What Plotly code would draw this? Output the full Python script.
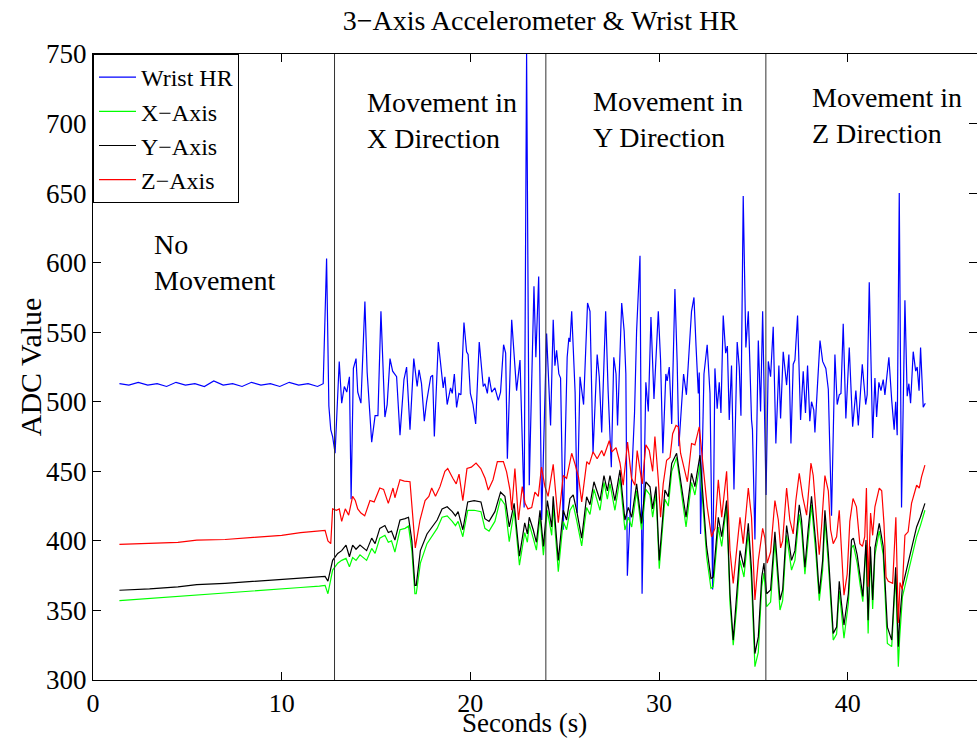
import plotly.graph_objects as go

# ---------------- data ----------------
hr_t = [1.4, 1.9, 2.4, 2.9, 3.4, 3.9, 4.4, 4.9, 5.4, 5.9, 6.4, 6.9, 7.4, 7.9, 8.4, 8.9, 9.4, 9.9, 10.4, 10.9, 11.4, 11.9, 12.2,
        12.38, 12.5, 12.6, 12.7, 12.83, 13.05, 13.18, 13.32, 13.45, 13.59, 13.68, 13.8, 13.94, 14.03, 14.2, 14.41, 14.53,
        14.77, 14.95, 15.1, 15.26, 15.47, 15.59, 15.74, 15.88, 16.09, 16.27, 16.48, 16.62, 16.8, 17.0, 17.18, 17.28, 17.41,
        17.56, 17.68, 17.9, 18.0, 18.09, 18.3, 18.42, 18.56, 18.65, 18.77, 18.95, 19.04, 19.15, 19.27, 19.39, 19.5, 19.66,
        19.8, 19.88, 20.0, 20.14, 20.28, 20.47, 20.6, 20.68, 20.77, 20.9, 20.99, 21.13, 21.3, 21.48, 21.6, 21.76, 21.87,
        21.96, 22.19, 22.31, 22.45, 22.63, 22.85, 22.98, 23.12, 23.37, 23.47, 23.62, 23.78, 24.04, 24.25, 24.39, 24.48,
        24.57, 24.69, 24.78, 24.92, 25.13, 25.22, 25.28, 25.37, 25.55, 25.66, 25.81, 25.9, 26.0, 26.21, 26.34, 26.5, 26.72,
        26.83, 26.96, 27.17, 27.3, 27.47, 27.6, 27.72, 27.8, 28.02, 28.15, 28.24, 28.32, 28.7, 28.81, 28.99, 29.1, 29.3,
        29.43, 29.57, 29.73, 29.96, 30.08, 30.2, 30.36, 30.43, 30.54, 30.67, 30.84, 30.96, 31.05, 31.3, 31.45, 31.72, 31.85,
        31.96, 32.08, 32.13, 32.2, 32.38, 32.55, 32.7, 32.84, 32.96, 33.08, 33.19, 33.28, 33.4, 33.53, 33.62, 33.72, 33.84,
        33.97, 34.14, 34.25, 34.34, 34.46, 34.6, 34.73, 34.9, 34.95, 35.08, 35.26, 35.38, 35.49, 35.67, 35.79, 35.91, 36.05,
        36.19, 36.35, 36.44, 36.58, 36.76, 36.88, 36.99, 37.11, 37.2, 37.34, 37.5, 37.64, 37.76, 37.87, 37.99, 38.08, 38.2,
        38.26, 38.38, 38.53, 38.67, 38.84, 38.97, 39.14, 39.32, 39.44, 39.55, 39.64, 39.76, 39.9, 40.08, 40.26, 40.43, 40.56,
        40.77, 40.95, 41.03, 41.14, 41.32, 41.44, 41.53, 41.65, 41.76, 41.88, 41.97, 42.1, 42.18, 42.33, 42.46, 42.54, 42.62,
        42.73, 42.85, 43.03, 43.15, 43.24, 43.33, 43.47, 43.6, 43.68, 43.78, 43.86, 44.0, 44.11]
hr_v = [513, 512, 514, 512, 513, 511, 514, 512, 513, 511, 515, 512, 513, 511, 514, 512, 513, 511, 514, 512, 513, 511, 513,
        603, 497, 480, 475, 463, 529, 499, 511, 507, 518, 430, 524, 531, 507, 499, 572, 521,
        471, 490, 490, 565, 489, 498, 531, 522, 518, 476, 516, 525, 480, 531, 511, 523, 513,
        486, 500, 518, 519, 475, 543, 526, 510, 518, 498, 510, 506, 520, 496, 506, 505, 557,
        536, 534, 506, 498, 484, 543, 525, 511, 513, 506, 518, 507, 510, 501, 507, 541, 535,
        459, 559, 535, 508, 530, 424, 750, 440, 583, 532, 590, 415, 549, 483, 559, 526,
        537, 520, 517, 408, 532, 546, 543, 565, 507, 420, 518, 507, 498, 571, 565, 463, 534,
        518, 478, 565, 508, 453, 532, 520, 483, 571, 551, 520, 375, 492, 551, 605, 362, 514,
        493, 561, 502, 565, 530, 463, 520, 515, 525, 484, 581, 528, 468, 520, 505, 565, 575,
        540, 506, 521, 405, 520, 541, 506, 365, 524, 495, 514, 492, 562, 535, 540, 487, 526,
        437, 543, 525, 490, 648, 539, 565, 487, 480, 401, 544, 493, 565, 433, 529, 518, 554,
        470, 526, 488, 536, 512, 534, 470, 527, 530, 562, 487, 522, 492, 526, 486, 500, 494,
        478, 508, 544, 529, 524, 509, 418, 534, 498, 505, 506, 556, 488, 539, 482, 508, 483,
        527, 498, 505, 586, 474, 517, 489, 514, 508, 516, 505, 524, 532, 501, 480, 500, 476,
        650, 424, 573, 504, 513, 499, 536, 522, 525, 508, 539, 496, 499]

z_t = [1.4, 3.0, 4.5, 5.5, 7.0, 8.5, 10.0, 11.0, 12.0, 12.3, 12.45, 12.6, 12.7, 12.9, 13.05, 13.18, 13.37, 13.55, 13.76,
       13.9, 14.03, 14.2, 14.4, 14.68, 14.9, 15.2, 15.4, 15.57, 15.65, 15.9, 16.0, 16.27, 16.5, 16.8, 16.98, 17.08, 17.33,
       17.6, 17.8, 17.95, 18.15, 18.39, 18.65, 18.8, 19.07, 19.25, 19.4, 19.6, 19.82, 20.05, 20.3, 20.55, 20.78, 20.95,
       21.2, 21.43, 21.75, 21.92, 22.1, 22.19, 22.36, 22.55, 22.75, 22.9, 23.05, 23.25, 23.42, 23.6, 23.77, 23.95, 24.12,
       24.39, 24.66, 24.92, 25.1, 25.37, 25.55, 25.73, 25.9, 26.17, 26.3, 26.5, 26.72, 26.96, 27.08, 27.36, 27.5, 27.72,
       27.93, 28.1, 28.33, 28.54, 28.72, 28.84, 28.99, 29.11, 29.3, 29.48, 29.66, 29.78, 29.96, 30.08, 30.22, 30.4, 30.58,
       30.72, 30.9, 31.02, 31.14, 31.37, 31.5, 31.72, 31.9, 32.13, 32.26, 32.43, 32.55, 32.78, 32.96, 33.14, 33.32, 33.58,
       33.76, 33.93, 34.11, 34.29, 34.46, 34.73, 34.9, 35.08, 35.26, 35.49, 35.61, 35.73, 35.91, 36.14, 36.32, 36.44, 36.55,
       36.76, 36.93, 37.11, 37.25, 37.43, 37.61, 37.82, 38.05, 38.17, 38.31, 38.49, 38.61, 38.79, 38.97, 39.09, 39.23,
       39.41, 39.55, 39.67, 39.8, 39.97, 40.11, 40.28, 40.46, 40.64, 40.78, 40.9, 40.99, 41.08, 41.21, 41.32, 41.44, 41.67,
       41.8, 41.92, 42.03, 42.15, 42.38, 42.55, 42.68, 42.77, 42.89, 43.03, 43.2, 43.38, 43.56, 43.65, 43.79, 43.91, 44.09]
z_v = [397.5, 398, 399, 400.5, 401, 402.5, 404, 406, 407, 407.5, 400, 398, 423, 422, 423, 414, 423, 418.5, 432,
       429, 423, 420, 418, 429, 428, 438, 437, 430, 427, 438, 431, 444, 443, 442.5, 415, 395, 415,
       429, 432, 438, 432, 439, 450, 452, 445, 441, 448, 429, 452, 453, 456, 452, 445, 436.5,
       444, 457, 457, 449.6, 436.5, 422, 452, 415, 439, 427, 423, 424, 435, 432, 453, 439, 432,
       455, 413, 447, 445, 463, 455, 446, 428, 457, 455, 464, 459, 465, 461, 472, 464, 467,
       456, 440, 471, 445, 440, 465, 451, 441, 469, 465, 450, 475, 444, 417, 441, 458, 460,
       477, 483, 482, 463, 451, 442.5, 470, 469, 482, 463, 440, 424.5, 403, 409, 444, 417, 450,
       393, 369.5, 393, 417, 398, 438, 417, 357.5, 386, 409, 402, 384, 392, 429, 415, 395, 400,
       438, 415, 405, 429, 448.5, 432, 418.5, 456, 447, 422, 390, 410, 447, 436, 408, 398,
       403, 422, 396, 361, 376, 414, 430.5, 424.5, 398, 396, 403, 438, 367, 420, 404, 424.5, 438,
       436, 412.6, 374, 371, 369.5, 417, 341, 370, 365, 404, 406.5, 427, 435, 440, 438, 446, 454.5]

y_t = [1.4, 3.0, 4.5, 5.5, 7.0, 8.5, 10.0, 11.0, 12.0, 12.3, 12.45, 12.7, 12.97, 13.18, 13.41, 13.59, 13.76, 13.94, 14.15,
       14.33, 14.5, 14.77, 14.95, 15.2, 15.47, 15.65, 15.82, 16.0, 16.27, 16.54, 16.72, 16.9, 17.06, 17.13, 17.35, 17.7,
       17.97, 18.24, 18.5, 18.77, 19.04, 19.21, 19.35, 19.6, 19.86, 20.2, 20.56, 20.77, 20.99, 21.3, 21.6, 21.83, 22.06,
       22.32, 22.6, 22.88, 23.02, 23.12, 23.33, 23.5, 23.69, 23.87, 24.08, 24.31, 24.39, 24.66, 24.92, 25.1, 25.28, 25.45,
       25.63, 25.9, 26.16, 26.34, 26.55, 26.87, 27.08, 27.26, 27.4, 27.66, 27.93, 28.19, 28.37, 28.55, 28.81, 29.07, 29.3,
       29.52, 29.66, 29.84, 30.01, 30.31, 30.49, 30.67, 30.93, 31.2, 31.43, 31.72, 31.9, 32.17, 32.34, 32.52, 32.75, 32.87,
       33.14, 33.32, 33.58, 33.76, 33.93, 34.11, 34.29, 34.5, 34.73, 34.9, 35.08, 35.26, 35.44, 35.56, 35.7, 35.91, 36.14,
       36.41, 36.55, 36.76, 37.02, 37.2, 37.43, 37.55, 37.73, 37.9, 38.08, 38.31, 38.49, 38.67, 38.79, 38.97, 39.23, 39.41,
       39.55, 39.67, 39.8, 40.03, 40.2, 40.3, 40.5, 40.66, 40.8, 40.97, 41.08, 41.2, 41.32, 41.44, 41.67, 41.88, 42.1,
       42.33, 42.54, 42.68, 42.75, 42.9, 43.1, 43.38, 43.65, 43.85, 44.09]
y_v = [364.5, 365.5, 367, 368.5, 369.5, 371, 372.5, 373.5, 374.5, 374.5, 371, 386, 391, 393, 397, 388.6, 397, 394, 397,
       395, 393, 402, 398, 409, 411, 406, 407, 400.6, 415, 416, 417, 400, 368, 368, 393, 405,
       410, 415, 423, 424.5, 421, 418, 421, 408, 428, 429, 428, 416, 414, 421, 435, 432, 410,
       427, 389, 413, 405, 417, 408, 399, 422, 396, 429, 410, 432, 386, 422, 415, 430.5, 433,
       422, 402, 431.7, 426, 442.5, 429, 447, 436, 447, 429, 451, 415, 424, 417, 441, 412.6, 442.5,
       438.9, 423, 439, 386, 436.5, 431.7, 455.7, 463, 439, 417, 448.5, 439, 461.6, 431.7, 396, 373, 374,
       417, 403, 429, 362, 328.7, 360, 393, 381, 412.6, 379, 319, 331, 374, 384, 362, 364.7, 406.5,
       357.5, 364.7, 411, 386, 393, 426, 415, 381, 408, 432, 398, 362, 386, 422, 391, 333.5, 338,
       371, 355, 339.5, 362, 400.6, 402, 390, 374, 360, 400.6, 343, 396, 357.5, 395, 412.6, 396, 338,
       328.7, 381, 324, 343, 367, 379, 394.6, 410, 417, 427]

x_t = y_t
x_v = [357, 358.5, 360, 361, 362.5, 364, 365.5, 366.5, 367.5, 368, 362, 379, 384, 386, 387.4, 381.4, 388, 386, 390,
       388, 386, 394.6, 391, 402, 404, 399, 400, 392, 408, 409, 410.6, 393, 362, 362, 384, 398,
       404, 409, 417, 418, 414, 411, 414, 403, 422, 422, 421, 409, 407, 414, 430.5, 426, 399.4,
       422, 382.6, 406, 399, 412, 402, 393.4, 417, 389.8, 422, 404, 425, 377.8, 414, 408, 422, 426,
       415, 396.4, 424, 419, 437, 422, 442, 430, 441, 422, 445, 407.8, 417, 410, 436, 408, 437,
       433, 417, 434, 380, 430, 425, 450, 460, 433, 410, 442, 433, 455, 425, 388.6, 365.9, 367,
       410, 396, 426, 355, 325, 352, 386, 374, 406, 371, 309.6, 320, 367, 377, 352.7, 356, 400,
       350.3, 357, 404, 379, 386, 419, 408, 376, 401, 426, 391, 357, 379, 415, 384, 328.7, 333,
       364, 348, 330, 355, 395, 397, 384, 368, 356.3, 397, 333.5, 390, 351, 390, 407, 390, 326.3,
       324, 376, 309.6, 330, 360, 372, 387, 403, 411, 422]

event_times = [12.8, 24.0, 35.66]
phase_labels = ["No<br>Movement", "Movement in<br>X Direction", "Movement in<br>Y Direction", "Movement in<br>Z Direction"]
phase_label_x = [3.13, 14.41, 26.39, 38.0]
phase_label_y = [600, 702.5, 703.2, 705.5]

x_ticks = [0, 10, 20, 30, 40]
y_ticks = [300, 350, 400, 450, 500, 550, 600, 650, 700, 750]

FONT = "Liberation Serif"

fig = go.Figure()
series = [
    ("Wrist HR", hr_t, hr_v, "#0000FF"),
    ("X\u2212Axis", x_t, x_v, "#00FF00"),
    ("Y\u2212Axis", y_t, y_v, "#000000"),
    ("Z\u2212Axis", z_t, z_v, "#FF0000"),
]
for name, t, v, c in series:
    fig.add_trace(go.Scatter(x=t, y=v, mode="lines", name=name,
                             line=dict(color=c, width=1.2)))

for et in event_times:
    fig.add_shape(type="line", xref="x", yref="paper", x0=et, x1=et, y0=0, y1=1,
                  line=dict(color="#333333", width=1), layer="above")

for txt, lx, ly in zip(phase_labels, phase_label_x, phase_label_y):
    fig.add_annotation(x=lx, y=ly, xref="x", yref="y", text=txt, showarrow=False,
                       xanchor="left", yanchor="middle", align="left",
                       font=dict(family=FONT, size=28, color="black"))

fig.add_annotation(x=0.488, y=-0.0687, xref="paper", yref="paper", text="Seconds (s)",
                   showarrow=False, xanchor="center", yanchor="middle",
                   font=dict(family=FONT, size=27, color="black"))
fig.add_annotation(x=-0.071, y=0.5, xref="paper", yref="paper", text="ADC Value",
                   showarrow=False, textangle=-90, xanchor="center", yanchor="middle",
                   font=dict(family=FONT, size=30, color="black"))

axis_common = dict(showgrid=False, zeroline=False, showline=True, linecolor="black", linewidth=1,
                   mirror="ticks", ticks="inside", ticklen=8, tickcolor="black")

fig.update_layout(
    width=977, height=740,
    margin=dict(l=93, r=0, t=54, b=60),
    paper_bgcolor="white", plot_bgcolor="white",
    title=dict(text="3\u2212Axis Accelerometer & Wrist HR", x=0.553, xanchor="center",
               y=0.973, yanchor="middle", yref="container",
               font=dict(family=FONT, size=28, color="black")),
    xaxis=dict(range=[0, 46.85], tickvals=x_ticks,
               tickfont=dict(family=FONT, size=26, color="black"), **axis_common),
    yaxis=dict(range=[300, 750], tickvals=y_ticks,
               tickfont=dict(family=FONT, size=27, color="black"), **axis_common),
    legend=dict(x=0, y=1, xanchor="left", yanchor="top", bgcolor="white",
                bordercolor="black", borderwidth=1, itemwidth=37,
                font=dict(family=FONT, size=24, color="black"), tracegroupgap=0),
    showlegend=True,
)

fig.write_html("out.html")
